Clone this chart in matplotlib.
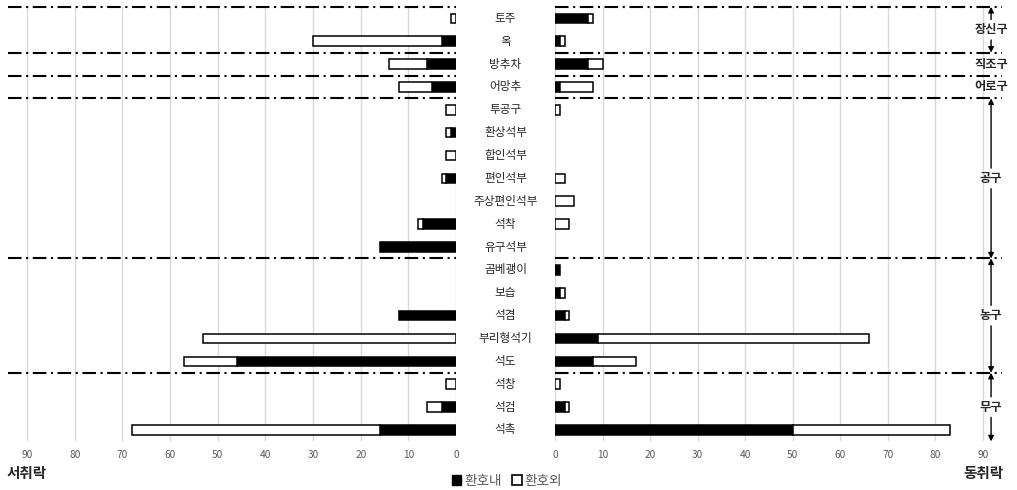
import numpy as np
import matplotlib
matplotlib.use("Agg")
import matplotlib.pyplot as plt
import matplotlib.transforms as mtransforms
from matplotlib.patches import Patch

plt.rcParams["font.family"] = ["Noto Sans CJK KR", "DejaVu Sans"]

# Data
categories = ["토주", "옥", "방추차", "어망추", "투공구", "환상석부", "합인석부", "편인석부",
              "주상편인석부", "석착", "유구석부", "곰베괭이", "보습", "석겸", "부리형석기",
              "석도", "석창", "석검", "석촉"]
west_in = [0, 3, 6, 5, 0, 1, 0, 2, 0, 7, 16, 0, 0, 12, 0, 46, 0, 3, 16]
west_out = [1, 27, 8, 7, 2, 1, 2, 1, 0, 1, 0, 0, 0, 0, 53, 11, 2, 3, 52]
east_in = [7, 1, 7, 1, 0, 0, 0, 0, 0, 0, 0, 1, 1, 2, 9, 8, 0, 2, 50]
east_out = [1, 1, 3, 7, 1, 0, 0, 2, 4, 3, 0, 0, 1, 1, 57, 9, 1, 1, 33]

# groups: (label, first row, last row, arrows)
groups = [("장신구", 0, 1, True), ("직조구", 2, 2, False), ("어로구", 3, 3, False),
          ("공구", 4, 10, True), ("농구", 11, 15, True), ("무구", 16, 18, True)]
separators = [-0.5, 1.5, 2.5, 3.5, 10.5, 15.5]

W, H = 1017, 490
fig = plt.figure(figsize=(W / 100, H / 100), dpi=100)
y_top, y_bot = 6.9, 441.4
axL = fig.add_axes([8 / W, 1 - y_bot / H, 448 / W, (y_bot - y_top) / H])
axR = fig.add_axes([555 / W, 1 - y_bot / H, 447 / W, (y_bot - y_top) / H])

y = np.arange(len(categories))
bar_h = 0.42
dash = (0, (6.5, 2.2, 1, 2.2))


def draw_side(ax, v_in, v_out):
    v_in = np.array(v_in)
    v_out = np.array(v_out)
    m = v_in > 0
    ax.barh(y[m], v_in[m], height=bar_h, color="black", edgecolor="black", linewidth=1.1, zorder=3)
    m = v_out > 0
    ax.barh(y[m], v_out[m], left=v_in[m], height=bar_h, color="white", edgecolor="black",
            linewidth=1.1, zorder=3)
    ax.set_xlim(0, 94)
    ax.set_ylim(18.5, -0.5)
    ax.set_xticks(np.arange(0, 91, 10))
    ax.set_yticks([])
    ax.grid(axis="x", color="#d9d9d9", linewidth=1, zorder=0)
    ax.tick_params(axis="x", length=0, labelsize=7.3, labelcolor="#595959", pad=6)
    for s in ax.spines.values():
        s.set_visible(False)
    for sy in separators:
        ax.axhline(sy, color="black", linewidth=1.5, linestyle=dash, zorder=4, clip_on=False)


draw_side(axL, west_in, west_out)
axL.invert_xaxis()
draw_side(axR, east_in, east_out)

# category labels in the middle
trans = mtransforms.blended_transform_factory(fig.transFigure, axL.transData)
for i, c in enumerate(categories):
    fig.text(505.5 / W, i, c, transform=trans, ha="center", va="center", fontsize=8.4, color="#262626")

# group labels and arrows on the right
gx = 91.7
for name, r0, r1, arrows in groups:
    cy = (r0 + r1) / 2
    axR.text(gx, cy, name, ha="center", va="center", fontsize=8.8, fontweight="bold",
             color="#262626", clip_on=False, zorder=6)
    if arrows:
        ap = dict(arrowstyle="-|>", color="black", lw=1.0, mutation_scale=8, shrinkA=0, shrinkB=0)
        axR.annotate("", xy=(gx, r0 - 0.5), xytext=(gx, cy - 0.45), arrowprops=ap, annotation_clip=False)
        axR.annotate("", xy=(gx, r1 + 0.5), xytext=(gx, cy + 0.45), arrowprops=ap, annotation_clip=False)

fig.text(7 / W, 1 - 473 / H, "서취락", ha="left", va="center", fontsize=10.5, fontweight="bold", color="#262626")
fig.text(1003 / W, 1 - 473 / H, "동취락", ha="right", va="center", fontsize=10.5, fontweight="bold", color="#262626")

handles = [Patch(facecolor="black", edgecolor="black", linewidth=1),
           Patch(facecolor="white", edgecolor="black", linewidth=1.2)]
fig.legend(handles, ["환호내", "환호외"], loc="center", bbox_to_anchor=(507 / W, 1 - 481 / H),
           ncol=2, frameon=False, fontsize=9.8, labelcolor="#595959", handlelength=0.7,
           handleheight=0.7, handletextpad=0.2, columnspacing=0.8, borderpad=0)

fig.savefig("out.png", dpi=100)
